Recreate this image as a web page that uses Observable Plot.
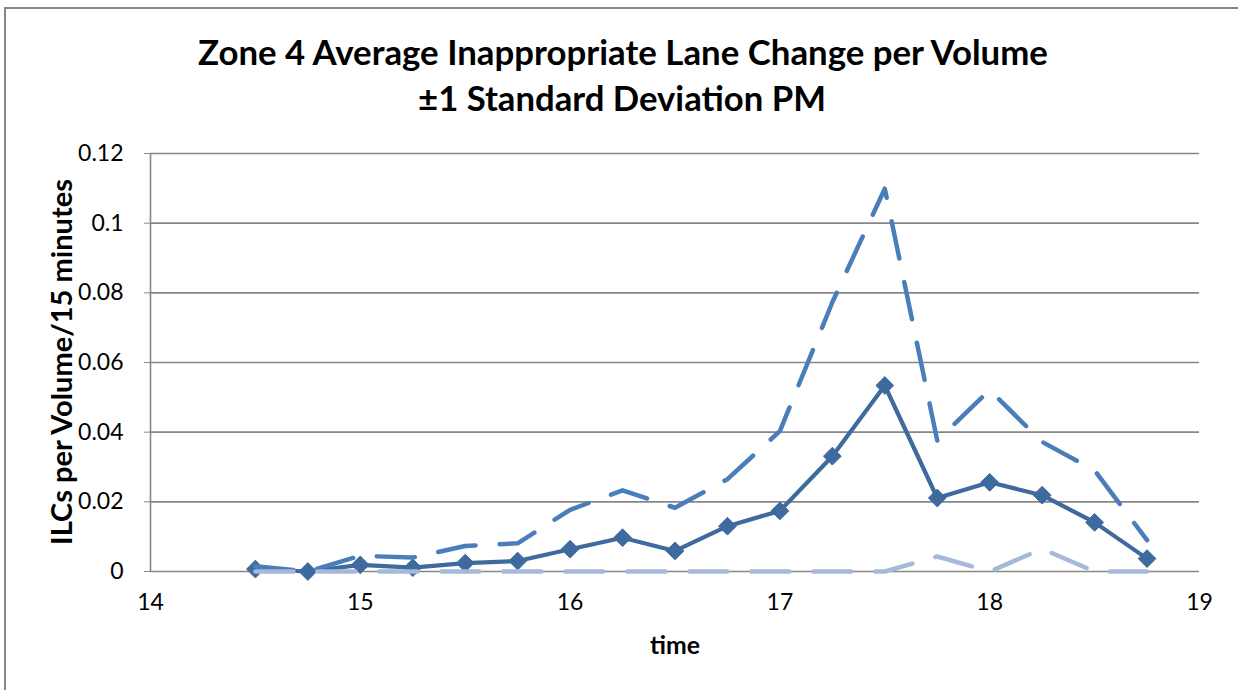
<!DOCTYPE html>
<html>
<head>
<meta charset="utf-8">
<script src="https://cdn.jsdelivr.net/npm/d3@7"></script>
<script src="https://cdn.jsdelivr.net/npm/@observablehq/plot@0.6"></script>
<style>
  html, body { margin: 0; padding: 0; background: #fff; }
  #wrap { position: relative; width: 1238px; height: 690px; overflow: hidden; font-family: Lato, "Open Sans", sans-serif; }
  #border { position: absolute; left: 4px; top: 7px; width: 1240px; height: 700px; border-top: 2px solid #878787; border-left: 2px solid #878787; box-sizing: border-box; }
  .lbl { position: absolute; white-space: nowrap; font-weight: bold; color: #000; line-height: 1; }
  #chart { position: absolute; left: 0; top: 120px; }
</style>
</head>
<body>
<div id="wrap">
  <div id="border"></div>
  <span class="lbl" id="t1">Zone 4 Average Inappropriate Lane Change per Volume</span>
  <span class="lbl" id="t2">±1 Standard Deviation PM</span>
  <span class="lbl" id="ylabel">ILCs per Volume/15 minutes</span>
  <span class="lbl" id="xlabel">time</span>
  <div id="chart"></div>
</div>
<script>
// ---- data ----
const times = [14.5, 14.75, 15, 15.25, 15.5, 15.75, 16, 16.25, 16.5, 16.75, 17, 17.25, 17.5, 17.75, 18, 18.25, 18.5, 18.75];
const meanValues = [0.0007, 0, 0.0019, 0.0011, 0.0024, 0.003, 0.0064, 0.0097, 0.0059, 0.013, 0.0174, 0.0331, 0.0534, 0.0211, 0.0256, 0.0219, 0.0141, 0.0037];
const upperValues = [0.0015, 0, 0.0045, 0.004, 0.0073, 0.0081, 0.0177, 0.0233, 0.0183, 0.0265, 0.0403, 0.0773, 0.1099, 0.0376, 0.0521, 0.0372, 0.029, 0.009];
const lowerValues = [0, 0, 0, 0, 0, 0, 0, 0, 0, 0, 0, 0, 0, 0.0043, 0, 0.0065, 0, 0];
const xTicks = [14, 15, 16, 17, 18, 19];
const yTicks = [0, 0.02, 0.04, 0.06, 0.08, 0.1, 0.12];
const yTickLabels = ["0", "0.02", "0.04", "0.06", "0.08", "0.1", "0.12"];

const meanData = times.map((t, i) => ({t, v: meanValues[i]}));
const upperData = times.map((t, i) => ({t, v: upperValues[i]}));
const lowerData = times.map((t, i) => ({t, v: lowerValues[i]}));

// fit a text label to a target width, centred at (cx, cy)
function place(id, targetW, cx, cy, rotate) {
  const el = document.getElementById(id);
  el.style.fontSize = "20px";
  const w = el.getBoundingClientRect().width;
  const fs = 20 * targetW / w;
  el.style.fontSize = fs.toFixed(2) + "px";
  el.style.left = cx + "px";
  el.style.top = cy + "px";
  el.style.transform = "translate(-50%, -50%)" + (rotate ? " rotate(-90deg)" : "");
}
place("t1", 850, 623, 52, false);
place("t2", 408, 622, 98, false);
place("ylabel", 366, 61, 362, true);
place("xlabel", 50, 675, 645, false);

const grid = "#878787";
const chart = Plot.plot({
  width: 1238,
  height: 570,
  marginLeft: 150,
  marginRight: 39,
  marginTop: 33,
  marginBottom: 119,
  style: { fontFamily: "Lato, 'Open Sans', sans-serif", fontSize: "23px", color: "#000", background: "transparent", overflow: "visible" },
  x: { domain: [14, 19], ticks: xTicks },
  y: { domain: [0, 0.12], ticks: yTicks },
  marks: [
    Plot.ruleY(yTicks, { stroke: grid, strokeWidth: 1.6 }),
    Plot.ruleX([14], { stroke: grid, strokeWidth: 1.6 }),
    Plot.axisY({ ticks: yTicks, tickSize: 6, tickPadding: 21, stroke: grid, tickFormat: d => yTickLabels[yTicks.indexOf(d)], label: null, fill: "#000" }),
    Plot.axisX({ ticks: xTicks, tickSize: 0, tickPadding: 22, tickFormat: d => String(d), label: null, fill: "#000" }),
    Plot.line(meanData, { x: "t", y: "v", stroke: "#3E6A9E", strokeWidth: 4.2, strokeLinejoin: "round" }),
    Plot.dot(meanData, { x: "t", y: "v", symbol: "diamond2", r: 8, fill: "#3E6A9E", stroke: "#3E6A9E", strokeWidth: 1 }),
    Plot.line(upperData, { x: "t", y: "v", stroke: "#4A7EBB", strokeWidth: 4.5, strokeDasharray: "38,24", strokeLinecap: "round", strokeLinejoin: "round" }),
    Plot.line(lowerData, { x: "t", y: "v", stroke: "#A7B9D8", strokeWidth: 4.5, strokeDasharray: "38,24", strokeLinecap: "round", strokeLinejoin: "round" })
  ]
});
document.getElementById("chart").appendChild(chart);
</script>
</body>
</html>
